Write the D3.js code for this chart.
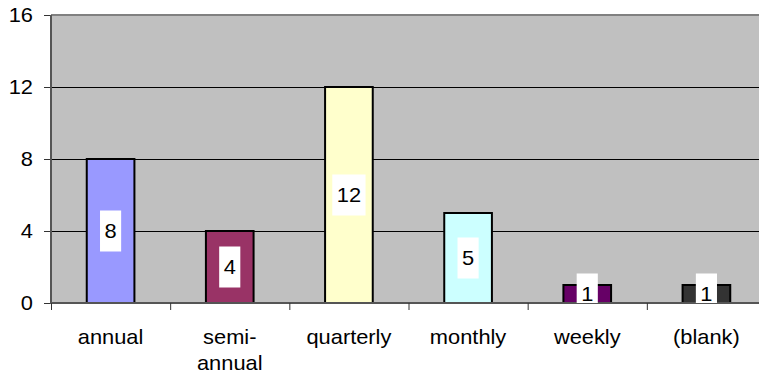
<!DOCTYPE html>
<html lang="en">
  <head>
    <meta charset="utf-8">
    <title>Frequency</title>
    <style>
      body { margin: 0; background: #fff; }
      svg { display: block; font-family: Arial, "Liberation Sans", sans-serif; }
    </style>
    <script src="https://d3js.org/d3.v7.min.js"></script>
  </head>
  <body>
    <div class="chart"></div>
    <script>
    const categories = ["annual", "semi-annual", "quarterly", "monthly", "weekly", "(blank)"];
    const counts = [8, 4, 12, 5, 1, 1];
    const yTicks = [0, 4, 8, 12, 16];

    const barColors = ["#9999ff", "#993366", "#ffffcc", "#ccffff", "#660066", "#333333"];

    const W = 759, H = 377;
    const margin = { top: 15, left: 51, bottom: 74, right: -7 };
    const plotW = W - margin.left - margin.right,
          plotH = H - margin.top - margin.bottom;
    // the original text is a touch wider than Arial
    const stretch = 1.04;
    const fontSize = "21px";

    const svg = d3.select(".chart")
      .append("svg")
      .attr("width", W)
      .attr("height", H);

    const x = d3.scaleBand()
      .domain(categories)
      .range([margin.left, margin.left + plotW])
      .paddingInner(0.6)
      .paddingOuter(0.3);

    const y = d3.scaleLinear()
      .domain([0, 16])
      .range([margin.top + plotH, margin.top]);

    svg.append("defs").append("clipPath")
      .attr("id", "plot-clip")
      .append("rect")
      .attr("x", margin.left)
      .attr("y", margin.top)
      .attr("width", plotW)
      .attr("height", plotH);

    // plot background
    svg.append("rect")
      .attr("x", margin.left)
      .attr("y", margin.top)
      .attr("width", plotW)
      .attr("height", plotH)
      .attr("fill", "#c0c0c0");

    // gridlines
    svg.append("g")
      .selectAll("line")
      .data(yTicks.filter(d => d > 0 && d < 16))
      .join("line")
      .attr("x1", margin.left)
      .attr("x2", margin.left + plotW)
      .attr("y1", d => y(d) + 0.5)
      .attr("y2", d => y(d) + 0.5)
      .attr("stroke", "#000")
      .attr("stroke-width", 1);

    // top border
    svg.append("line")
      .attr("x1", margin.left)
      .attr("x2", margin.left + plotW)
      .attr("y1", y(16))
      .attr("y2", y(16))
      .attr("stroke", "#808080")
      .attr("stroke-width", 2);

    // bars
    svg.append("g")
      .selectAll("rect")
      .data(categories)
      .join("rect")
      .attr("x", d => x(d))
      .attr("y", (d, i) => y(counts[i]))
      .attr("width", x.bandwidth())
      .attr("height", (d, i) => y(0) - y(counts[i]))
      .attr("fill", (d, i) => barColors[i])
      .attr("stroke", "#000")
      .attr("stroke-width", 2);

    // value axis
    const yAxis = svg.append("g")
      .attr("transform", `translate(${margin.left},0)`)
      .call(d3.axisLeft(y).tickValues(yTicks).tickSize(7).tickFormat(""));
    yAxis.select(".domain").remove();
    yAxis.selectAll(".tick line").attr("stroke", "#333");

    svg.append("g")
      .selectAll("text")
      .data(yTicks)
      .join("text")
      .attr("transform", d => `translate(${margin.left - 18},${y(d)}) scale(${stretch},1)`)
      .attr("text-anchor", "end")
      .attr("dy", "0.35em")
      .style("font-size", fontSize)
      .attr("fill", "#000")
      .text(d3.format("d"));

    svg.append("line")
      .attr("x1", margin.left)
      .attr("x2", margin.left)
      .attr("y1", margin.top)
      .attr("y2", y(0) + 1)
      .attr("stroke", "#555")
      .attr("stroke-width", 2);

    // category axis with ticks between categories
    const step = x.step();
    const bounds = d3.range(categories.length + 1).map(i => margin.left + i * step);
    svg.append("line")
      .attr("x1", margin.left)
      .attr("x2", margin.left + plotW)
      .attr("y1", y(0))
      .attr("y2", y(0))
      .attr("stroke", "#555")
      .attr("stroke-width", 2);

    svg.append("g")
      .selectAll("line")
      .data(bounds)
      .join("line")
      .attr("x1", d => d + 0.5)
      .attr("x2", d => d + 0.5)
      .attr("y1", y(0))
      .attr("y2", y(0) + 7)
      .attr("stroke", "#333");

    const catLabels = svg.append("g")
      .selectAll("text")
      .data(categories)
      .join("text")
      .attr("transform", d => `translate(${x(d) + x.bandwidth() / 2},344) scale(${stretch},1)`)
      .attr("text-anchor", "middle")
      .style("font-size", fontSize)
      .attr("fill", "#000");

    catLabels.each(function(d) {
      const parts = d === "semi-annual" ? ["semi-", "annual"] : [d];
      const t = d3.select(this);
      parts.forEach((p, i) => {
        t.append("tspan")
          .attr("x", 0)
          .attr("dy", i === 0 ? 0 : 26)
          .text(p);
      });
    });

    // value labels
    const labels = svg.append("g")
      .attr("clip-path", "url(#plot-clip)")
      .selectAll("g")
      .data(categories)
      .join("g")
      .attr("transform", (d, i) => `translate(${x(d) + x.bandwidth() / 2},${y(counts[i] / 2)})`);

    labels.append("rect").attr("fill", "#fff");
    labels.append("text")
      .attr("text-anchor", "middle")
      .attr("transform", `scale(${stretch},1)`)
      .attr("dy", "0.35em")
      .style("font-size", fontSize)
      .attr("fill", "#000")
      .text((d, i) => counts[i]);

    labels.each(function() {
      const g = d3.select(this);
      const tw = g.select("text").node().getComputedTextLength() * stretch;
      g.select("rect")
        .attr("x", -tw / 2 - 4.5)
        .attr("y", -20.5)
        .attr("width", tw + 9)
        .attr("height", 41);
    });
    </script>
  </body>
</html>
